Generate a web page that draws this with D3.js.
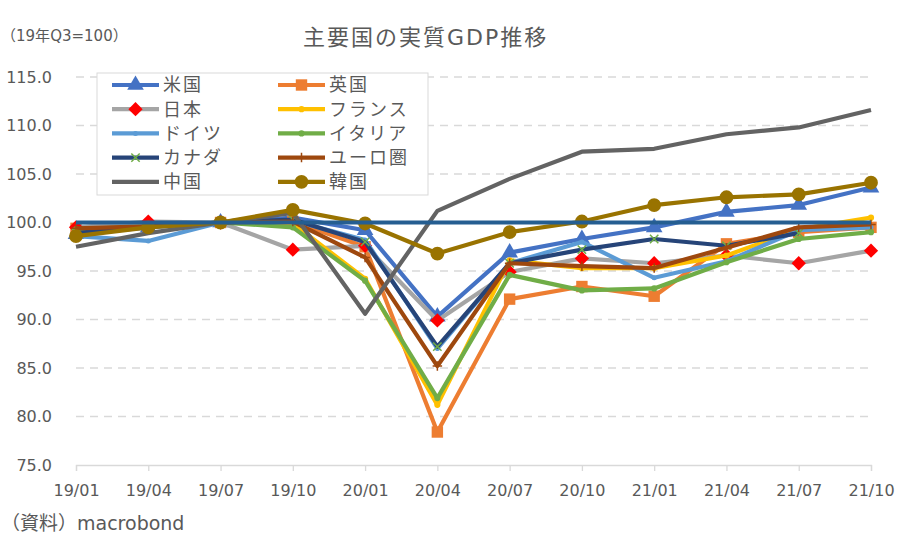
<!DOCTYPE html>
<html>
<head>
<meta charset="utf-8">
<script src="https://cdn.jsdelivr.net/npm/d3@7"></script>
<style>
  body { margin: 0; background: #fff; }
  svg { font-family: 'DejaVu Sans', 'Noto Sans CJK JP', sans-serif; text-spacing-trim: space-all; }
  .cjk { font-family: 'Noto Sans CJK JP', sans-serif; }
</style>
</head>
<body>
<div id="chart"></div>
<script>
const quarters = ['19/01', '19/04', '19/07', '19/10', '20/01', '20/04', '20/07', '20/10', '21/01', '21/04', '21/07', '21/10']
const yTicks = [75, 80, 85, 90, 95, 100, 105, 110, 115]

const usa = [98.8, 99.5, 100, 100.5, 99.2, 90.3, 96.9, 98.3, 99.5, 101.1, 101.8, 103.6]
const uk = [99.4, 99.6, 100, 100.1, 97.5, 78.4, 92.1, 93.4, 92.4, 97.8, 99.0, 99.5]
const japan = [99.5, 100.1, 100, 97.2, 97.6, 89.9, 94.9, 96.3, 95.8, 96.6, 95.8, 97.1]
const france = [99.1, 99.6, 100, 99.9, 94.2, 81.2, 96.1, 95.3, 95.3, 96.6, 99.3, 100.5]
const germany = [98.6, 98.1, 100, 100.2, 98.2, 87.0, 95.8, 98.0, 94.3, 96.0, 99.2, 99.5]
const italy = [99.3, 99.6, 100, 99.5, 94.0, 81.9, 94.6, 93.0, 93.2, 95.9, 98.3, 99.0]
const canada = [98.9, 99.6, 100, 100.3, 98.0, 87.2, 95.8, 97.2, 98.3, 97.6, 98.9, null]
const euro = [99.4, 99.6, 100, 100.1, 96.4, 85.2, 95.8, 95.5, 95.3, 97.4, 99.5, 99.8]
const china = [97.5, 98.9, 100, 101.0, 90.6, 101.2, 104.5, 107.3, 107.6, 109.1, 109.8, 111.6]
const korea = [98.6, 99.5, 100, 101.3, 99.9, 96.8, 99.0, 100.1, 101.8, 102.6, 102.9, 104.1]
const base = [100, 100, 100, 100, 100, 100, 100, 100, 100, 100, 100, 100]

const series = [
  { name: '米国', values: usa, color: '#4472C4', marker: 'triangle', mcolor: '#4472C4', msize: 120 },
  { name: '英国', values: uk, color: '#ED7D31', marker: 'square', mcolor: '#ED7D31', msize: 130 },
  { name: '日本', values: japan, color: '#A5A5A5', marker: 'diamond', mcolor: '#FF0000', msize: 130 },
  { name: 'フランス', values: france, color: '#FFC000', marker: 'circle', mcolor: '#FFC000', msize: 30 },
  { name: 'ドイツ', values: germany, color: '#5B9BD5', marker: 'circle', mcolor: '#5B9BD5', msize: 20 },
  { name: 'イタリア', values: italy, color: '#70AD47', marker: 'circle', mcolor: '#70AD47', msize: 30 },
  { name: 'カナダ', values: canada, color: '#264478', marker: 'x', mcolor: '#70AD47', msize: 70 },
  { name: 'ユーロ圏', values: euro, color: '#9E480E', marker: 'plus', mcolor: '#9E480E', msize: 90 },
  { name: '中国', values: china, color: '#636363', marker: null },
  { name: '韓国', values: korea, color: '#997300', marker: 'circle', mcolor: '#997300', msize: 150 },
  { name: null, values: base, color: '#255E91', marker: null }
]

const W = 900, H = 551
const svg = d3.select('#chart').append('svg').attr('width', W).attr('height', H)

const x = d3.scalePoint().domain(quarters).range([76, 871])
const y = d3.scaleLinear().domain([75, 115]).range([465, 77])

// gridlines
svg.append('g')
  .selectAll('line')
  .data(yTicks.filter(d => d > 75))
  .enter().append('line')
  .attr('x1', 76).attr('x2', 871)
  .attr('y1', d => y(d)).attr('y2', d => y(d))
  .attr('stroke', '#D9D9D9').attr('stroke-width', 1.3)
  .attr('stroke-dasharray', '8,6')

// y axis labels
svg.append('g')
  .attr('transform', 'translate(76,0)')
  .call(d3.axisLeft(y).tickValues(yTicks).tickFormat(d3.format('.1f')).tickSize(0).tickPadding(24))
  .call(g => g.select('.domain').remove())
  .call(g => g.selectAll('text').attr('fill', '#595959').style('font-size', '16px').style('font-family', 'DejaVu Sans'))

// x axis
const xAxis = svg.append('g')
  .attr('transform', 'translate(0,' + y(75) + ')')
  .call(d3.axisBottom(x).tickSize(6).tickPadding(14))
xAxis.select('.domain').attr('stroke', '#D9D9D9').attr('stroke-width', 1.3)
xAxis.selectAll('line').attr('stroke', '#D9D9D9').attr('stroke-width', 1.3)
xAxis.selectAll('text').attr('fill', '#595959').style('font-size', '16px').style('font-family', 'DejaVu Sans')

const line = d3.line()
  .defined(d => d != null)
  .x((d, i) => x(quarters[i]))
  .y(d => y(d))

const symbols = {
  triangle: d3.symbolTriangle,
  square: d3.symbolSquare,
  diamond: d3.symbolDiamond2,
  circle: d3.symbolCircle
}

function drawMarker (g, s, cx, cy, size) {
  const m = g.append('path')
    .attr('transform', 'translate(' + cx + ',' + cy + ')')
  if (s.marker === 'x' || s.marker === 'plus') {
    const k = Math.sqrt(size) / 2
    m.attr('d', s.marker === 'x'
      ? 'M' + (-k) + ',' + (-k) + 'L' + k + ',' + k + 'M' + (-k) + ',' + k + 'L' + k + ',' + (-k)
      : 'M0,' + (-k) + 'L0,' + k + 'M' + (-k) + ',0L' + k + ',0')
      .attr('fill', 'none').attr('stroke', s.mcolor).attr('stroke-width', 1.5)
  } else {
    m.attr('d', d3.symbol().type(symbols[s.marker]).size(size)())
      .attr('fill', s.mcolor)
  }
}

const plot = svg.append('g')
series.forEach(s => {
  const g = plot.append('g')
  g.append('path')
    .datum(s.values)
    .attr('d', line)
    .attr('fill', 'none')
    .attr('stroke', s.color)
    .attr('stroke-width', 4.2)
    .attr('stroke-linejoin', 'round')
  if (s.marker) {
    s.values.forEach((v, i) => {
      if (v != null) drawMarker(g, s, x(quarters[i]), y(v), s.msize)
    })
  }
})

// legend
const legendItems = series.filter(s => s.name)
const legend = svg.append('g')
legend.append('rect')
  .attr('x', 97).attr('y', 73).attr('width', 331).attr('height', 122)
  .attr('fill', '#fff').attr('stroke', '#D9D9D9').attr('stroke-width', 1)
legendItems.forEach((s, i) => {
  const col = i % 2
  const row = Math.floor(i / 2)
  const lx = col === 0 ? 112 : 278
  const ly = 85 + row * 24.2
  const g = legend.append('g')
  g.append('line')
    .attr('x1', lx).attr('x2', lx + 47)
    .attr('y1', ly).attr('y2', ly)
    .attr('stroke', s.color).attr('stroke-width', 4.2)
  if (s.marker) drawMarker(g, s, lx + 23.5, ly, s.msize)
  g.append('text')
    .attr('class', 'cjk')
    .attr('x', lx + 51).attr('y', ly)
    .attr('dy', '0.35em')
    .attr('fill', '#595959')
    .style('font-size', '18px')
    .style('letter-spacing', '2px')
    .text(s.name)
})

// titles
svg.append('text')
  .attr('x', 303).attr('y', 37).attr('dy', '0.35em')
  .attr('fill', '#595959')
  .style('font-size', '22px')
  .style('letter-spacing', '2px')
  .text('主要国の実質GDP推移')

const sub = svg.append('text')
  .attr('x', 1).attr('y', 36).attr('dy', '0.35em')
  .attr('fill', '#595959')
  .style('font-size', '15px')
sub.append('tspan').attr('class', 'cjk').text('（')
sub.append('tspan').text('19')
sub.append('tspan').attr('class', 'cjk').text('年')
sub.append('tspan').text('Q3=100')
sub.append('tspan').attr('class', 'cjk').text('）')

const src = svg.append('text')
  .attr('x', 1).attr('y', 523).attr('dy', '0.35em')
  .attr('fill', '#595959')
  .style('font-size', '19px')
src.append('tspan').attr('class', 'cjk').text('（資料）')
src.append('tspan').text('macrobond')
</script>
</body>
</html>
